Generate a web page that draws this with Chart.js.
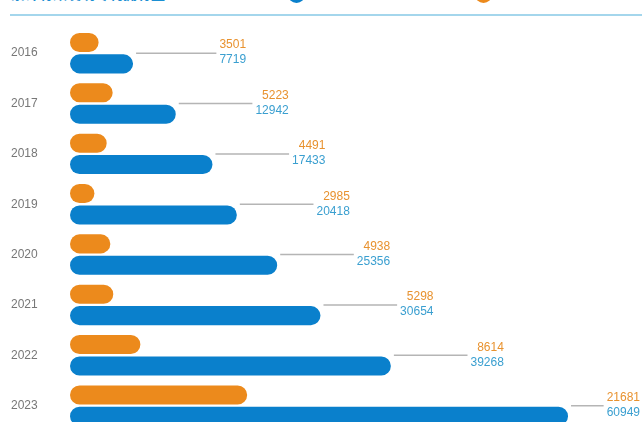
<!DOCTYPE html>
<html>
<head>
<meta charset="utf-8">
<script src="https://cdn.jsdelivr.net/npm/chart.js@4"></script>
<style>
  html, body { margin: 0; padding: 0; background: #fff; overflow: hidden; }
  body { width: 642px; height: 422px; position: relative; }
  .title { position: absolute; top: -17px; left: 11px; font: bold 14px "Noto Sans CJK SC", sans-serif; color: #1b8fd2; white-space: nowrap; }
  .rule { position: absolute; top: 14px; left: 10px; width: 632px; height: 2px; background: #a4d6ec; }
  .leg { position: absolute; top: -17px; font: 13px "Noto Sans CJK SC", sans-serif; color: #999; white-space: nowrap; }
  .leg i { display: inline-block; width: 17px; height: 17px; border-radius: 50%; vertical-align: middle; margin-right: 8px; }
  .chart-box { position: absolute; top: 0; left: 0; width: 642px; height: 441px; }
</style>
</head>
<body>
<div class="title">累计有效发明专利拥有量</div>
<div class="leg" style="left:288px"><i style="background:#0a80cc"></i>累计有效专利拥有量（件）</div>
<div class="leg" style="left:475px"><i style="background:#ec8a1c"></i>当年新增专利授权量（件）</div>
<div class="rule"></div>
<div class="chart-box"><canvas id="chart-patents"></canvas></div>

<script>
const years = ["2016", "2017", "2018", "2019", "2020", "2021", "2022", "2023"];
const newPatents = [3501, 5223, 4491, 2985, 4938, 5298, 8614, 21681];
const totalPatents = [7719, 12942, 17433, 20418, 25356, 30654, 39268, 60949];
const xMax = 70000;

const orange = "#ec8a1c";
const blue = "#0a80cc";

// leader line + two value labels next to each pair of bars
const valueLabels = {
  id: "valueLabels",
  afterDatasetsDraw(chart) {
    const ctx = chart.ctx;
    const metaNew = chart.getDatasetMeta(0);
    const metaTotal = chart.getDatasetMeta(1);
    ctx.save();
    ctx.font = "12px 'Liberation Sans', Arial, sans-serif";
    ctx.textAlign = "right";
    ctx.textBaseline = "middle";
    years.forEach((y, i) => {
      const barNew = metaNew.data[i];
      const barTotal = metaTotal.data[i];
      const end = barTotal.x;
      const mid = (barNew.y + barTotal.y) / 2;
      const right = Math.min(end + 113, 640);
      const txtNew = String(newPatents[i]);
      const txtTotal = String(totalPatents[i]);
      const w = Math.max(ctx.measureText(txtNew).width, ctx.measureText(txtTotal).width);

      ctx.strokeStyle = "#b5b5b5";
      ctx.lineWidth = 1.5;
      ctx.beginPath();
      ctx.moveTo(end + 3, mid);
      ctx.lineTo(right - w - 3, mid);
      ctx.stroke();

      ctx.fillStyle = "#e8922f";
      ctx.fillText(txtNew, right, mid - 8);
      ctx.fillStyle = "#3a9fd0";
      ctx.fillText(txtTotal, right, mid + 7);
    });
    ctx.restore();
  },
};

const config = {
  type: "bar",
  data: {
    labels: years,
    datasets: [
      {
        label: "当年新增专利授权量（件）",
        data: newPatents,
        backgroundColor: orange,
        borderRadius: 10,
        borderSkipped: false,
        categoryPercentage: 0.85,
        barPercentage: 0.89,
      },
      {
        label: "累计有效专利拥有量（件）",
        data: totalPatents,
        backgroundColor: blue,
        borderRadius: 10,
        borderSkipped: false,
        categoryPercentage: 0.85,
        barPercentage: 0.89,
      },
    ],
  },
  options: {
    indexAxis: "y",
    responsive: true,
    maintainAspectRatio: false,
    animation: false,
    layout: { padding: { top: 28, left: 11, right: 0, bottom: 0 } },
    plugins: {
      legend: { display: false },
      tooltip: { enabled: false },
    },
    scales: {
      x: {
        display: false,
        min: 0,
        max: xMax,
      },
      y: {
        grid: { display: false, drawTicks: false },
        border: { display: false },
        ticks: {
          crossAlign: "far",
          color: "#777",
          font: { size: 12, family: "'Liberation Sans', Arial, sans-serif" },
        },
        afterFit(scale) {
          scale.width = 59;
        },
      },
    },
  },
  plugins: [valueLabels],
};

new Chart(document.getElementById("chart-patents"), config);
</script>
</body>
</html>
